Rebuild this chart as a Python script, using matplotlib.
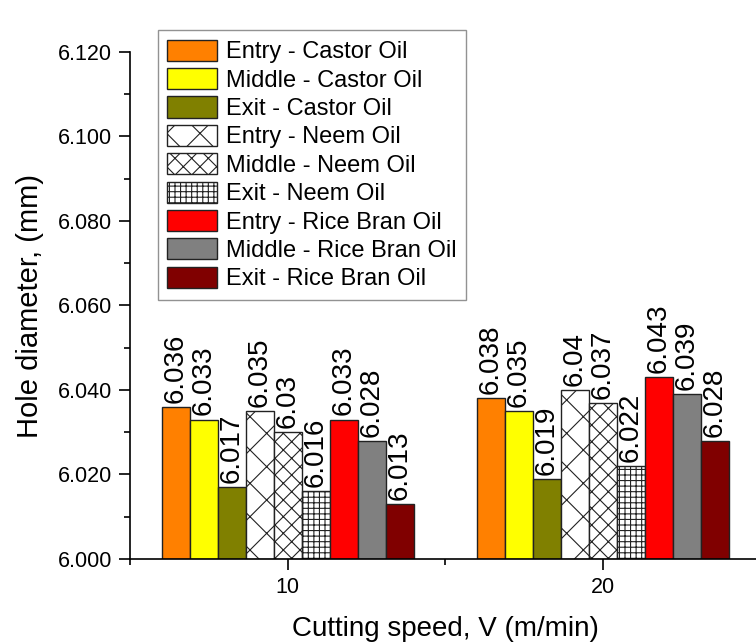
import numpy as np
import matplotlib
matplotlib.use('Agg')
import matplotlib.pyplot as plt
from matplotlib.ticker import MultipleLocator

plt.rcParams['font.family'] = ['Liberation Sans', 'DejaVu Sans']
plt.rcParams['hatch.linewidth'] = 0.8

# data
speeds = [10, 20]
series = ['Entry - Castor Oil', 'Middle - Castor Oil', 'Exit - Castor Oil',
          'Entry - Neem Oil', 'Middle - Neem Oil', 'Exit - Neem Oil',
          'Entry - Rice Bran Oil', 'Middle - Rice Bran Oil', 'Exit - Rice Bran Oil']
diam_10 = [6.036, 6.033, 6.017, 6.035, 6.030, 6.016, 6.033, 6.028, 6.013]
diam_20 = [6.038, 6.035, 6.019, 6.040, 6.037, 6.022, 6.043, 6.039, 6.028]

colors = ['#FF8000', '#FFFF00', '#808000', 'white', 'white', 'white',
          '#FF0000', '#808080', '#800000']
hatches = [None, None, None, 'x', 'xx', '+++', None, None, None]

fig = plt.figure(figsize=(7.56, 6.44), dpi=100)
ax = fig.add_axes([130/756, 1 - 559/644, 630.5/756, 507/644])

w = 8 / 9
vals = np.array([diam_10, diam_20])
for i, name in enumerate(series):
    x = np.array(speeds) + (i - 4) * w
    bars = ax.bar(x, vals[:, i] - 6.0, bottom=6.0, width=w, color=colors[i],
                  edgecolor='#222222', linewidth=1.0, hatch=hatches[i], label=name)
    for b, v in zip(bars, vals[:, i]):
        ax.annotate(f'{v:g}', (b.get_x() + w / 2, v), xytext=(0, 3),
                    textcoords='offset points', rotation=90, ha='center',
                    va='bottom', fontsize=20, annotation_clip=False)

ax.set_xlim(5, 25)
ax.set_ylim(6.0, 6.12)
ax.set_xticks(speeds)
ax.xaxis.set_minor_locator(MultipleLocator(5))
ax.yaxis.set_major_locator(MultipleLocator(0.02))
ax.yaxis.set_minor_locator(MultipleLocator(0.01))
ax.yaxis.set_major_formatter(plt.FormatStrFormatter('%.3f'))
ax.spines['top'].set_visible(False)
ax.spines['right'].set_visible(False)
for s in ['left', 'bottom']:
    ax.spines[s].set_linewidth(1.2)
ax.tick_params(which='major', direction='out', length=8, width=1.2, labelsize=15.5, pad=5)
ax.tick_params(which='minor', direction='out', length=4.5, width=1.2)

ax.set_xlabel('Cutting speed, V (m/min)', fontsize=20, labelpad=13)
ax.set_ylabel('Hole diameter, (mm)', fontsize=21, labelpad=10)

leg = ax.legend(loc='upper left', bbox_to_anchor=(0.044, 1.043), borderaxespad=0,
                fontsize=17, frameon=True, fancybox=False, edgecolor='#777777',
                handlelength=2.1, handleheight=1.0, labelspacing=0.2,
                handletextpad=0.4, borderpad=0.4)
leg.get_frame().set_linewidth(1.0)

fig.savefig('out.png', dpi=100)
